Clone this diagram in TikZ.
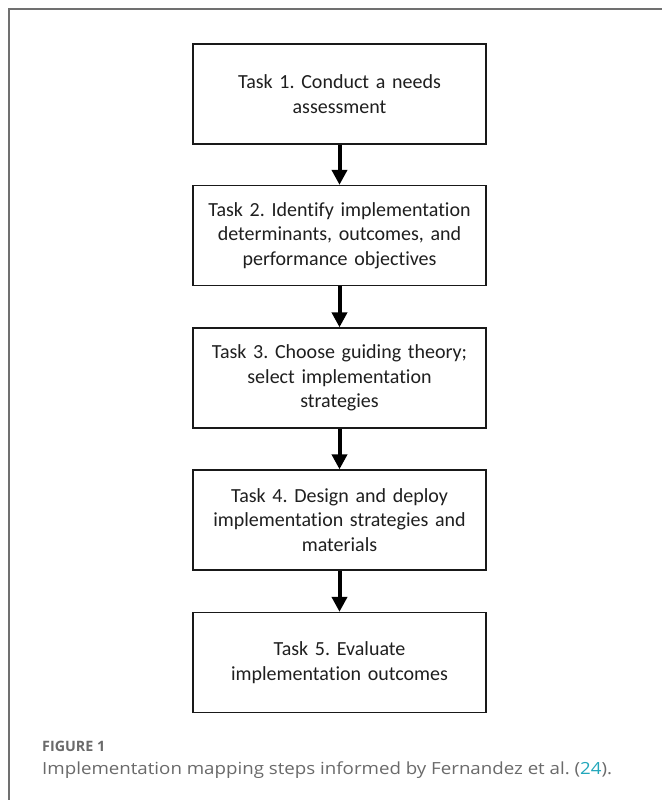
\documentclass[tikz,border=0pt]{standalone}
\usepackage{fontspec}
\setmainfont{Carlito}[Ligatures={NoCommon}]
\newfontfamily\capfont{Open Sans}[FakeStretch=1.12]
\newfontfamily\figfont{Open Sans}
\usetikzlibrary{arrows.meta}
\definecolor{framegray}{HTML}{707070}
\definecolor{capgray}{HTML}{6A6A6A}
\definecolor{linkteal}{HTML}{22A7BB}
\begin{document}
\frenchspacing
\begin{tikzpicture}[x=1pt,y=-1pt,
  taskbox/.style={draw=black!90, line width=1.3pt, minimum width=293pt, minimum height=100pt,
    align=center, text width=285pt, text=black!88,
    font=\frenchspacing\fontsize{20}{24.5}\selectfont, inner sep=0pt},
  flow/.style={line width=4pt, -{Triangle[length=15pt,width=15pt]}}]
\useasboundingbox (0,0) rectangle (662,800);
\fill[white] (0,0) rectangle (662,800);
% outer frame: top and left rules only
\draw[framegray, line width=1.6pt] (9,800) -- (9,9) -- (662,9);
% task boxes
\node[taskbox] (t1) at (339.5,94) {Task 1. Conduct a needs\\assessment};
\node[taskbox] (t2) at (339.5,235.5) {Task 2. Identify implementation\\determinants, outcomes, and\\performance objectives};
\node[taskbox] (t3) at (339.5,378) {Task 3. Choose guiding theory;\\select implementation\\strategies};
\node[taskbox] (t4) at (339.5,520) {Task 4. Design and deploy\\implementation strategies and\\materials};
\node[taskbox] (t5) at (339.5,662.5) {Task 5. Evaluate\\implementation outcomes};
% connectors
\draw[flow] (t1.south) -- (t2.north);
\draw[flow] (t2.south) -- (t3.north);
\draw[flow] (t3.south) -- (t4.north);
\draw[flow] (t4.south) -- (t5.north);
% caption
\node[anchor=base west, inner sep=0pt, text=capgray, font=\figfont\fontsize{14.3}{16}\selectfont\bfseries] (fig) at (42,751) {FIGURE 1};
\node[anchor=base west, inner sep=0pt, text=capgray, font=\capfont\frenchspacing\fontsize{16.7}{19}\selectfont] (cap) at (42,774) {Implementation mapping steps informed by Fernandez et al. ({\color{linkteal}24}).};
\end{tikzpicture}
\end{document}
